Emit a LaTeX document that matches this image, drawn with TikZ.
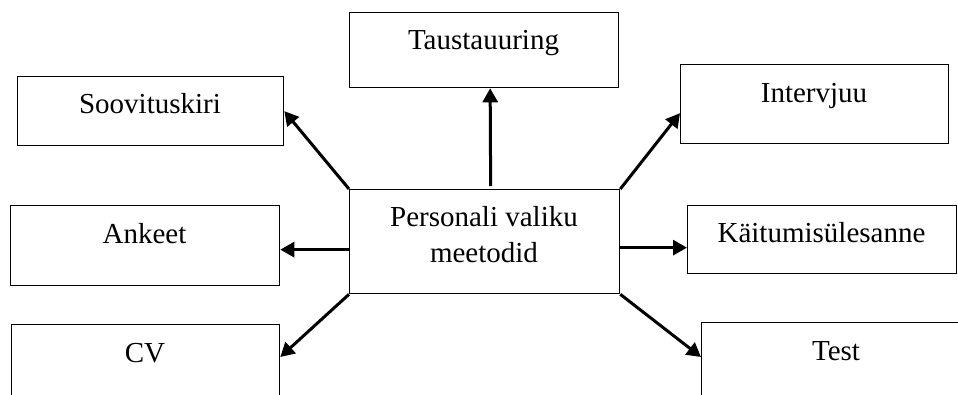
\documentclass[tikz,border=0pt]{standalone}
\usepackage{fontspec}
\setmainfont{Liberation Serif}
\usetikzlibrary{arrows.meta}
\begin{document}
\begin{tikzpicture}[x=1pt,y=-1pt,
  box/.style={draw, line width=1.3pt, rectangle, inner sep=0pt, anchor=north west},
  lbl/.style={font=\fontsize{29}{34}\selectfont, anchor=base, inner sep=0pt},
  arr/.style={line width=3pt, -{Triangle[length=14pt,width=15pt]}}]
  \useasboundingbox (0,0) rectangle (958,394);
  \clip (0,0) rectangle (958,394);

  % boxes
  \node[box, minimum width=270pt, minimum height=104pt] (main) at (349,189) {};
  \node[box, minimum width=266pt, minimum height=69pt]  (soov) at (17,76) {};
  \node[box, minimum width=269pt, minimum height=75pt]  (taus) at (349,12) {};
  \node[box, minimum width=268pt, minimum height=79pt]  (intv) at (680,64) {};
  \node[box, minimum width=269pt, minimum height=80pt]  (ank)  at (10,205) {};
  \node[box, minimum width=269pt, minimum height=68pt]  (kait) at (687,205) {};
  \node[box, minimum width=268pt, minimum height=100pt] (cv)   at (11,324) {};
  \node[box, minimum width=300pt, minimum height=100pt] (test) at (701,322) {};

  % labels
  \node[lbl] (mainA) at (484,226) {Personali valiku};
  \node[lbl] (mainB) at (484,262) {meetodid};
  \node[lbl] (soovT) at (150,113) {Soovituskiri};
  \node[lbl] (tausT) at (483.5,49) {Taustauuring};
  \node[lbl] (intvT) at (814,102) {Intervjuu};
  \node[lbl] (ankT)  at (144.5,243) {Ankeet};
  \node[lbl] (kaitT) at (821.5,242) {Käitumisülesanne};
  \node[lbl] (cvT)   at (145,362) {CV};
  \node[lbl] (testT) at (836,360) {Test};

  % connectors
  \draw[arr] (main.north west) -- (soov.east);
  \draw[arr] ([xshift=6pt,yshift=3pt]main.north) -- ([xshift=6pt]taus.south);
  \draw[arr] (main.north east) -- ([yshift=-9pt]intv.west);
  \draw[arr] ([yshift=-8pt]main.west) -- ([yshift=-8pt]main.west -| ank.east);
  \draw[arr] ([yshift=-6pt]main.east) -- ([yshift=-6pt]main.east -| kait.west);
  \draw[arr] (main.south west) -- ([yshift=-33pt]cv.north east);
  \draw[arr] (main.south east) -- ([yshift=-35pt]test.north west);
\end{tikzpicture}
\end{document}
